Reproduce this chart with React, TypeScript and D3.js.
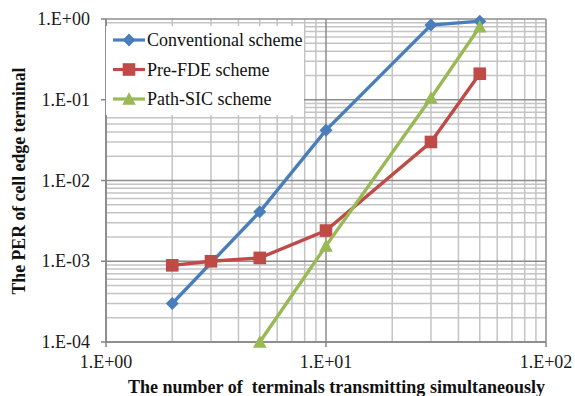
import React from "react";
import * as d3 from "d3";

const xTickValues = [1, 10, 100];
const xTickLabels = ["1.E+00", "1.E+01", "1.E+02"];
const yTickValues = [1, 0.1, 0.01, 0.001, 0.0001];
const yTickLabels = ["1.E+00", "1.E-01", "1.E-02", "1.E-03", "1.E-04"];

const convX = [2, 5, 10, 30, 50];
const convY = [3e-4, 4.1e-3, 0.042, 0.84, 0.94];
const fdeX = [2, 3, 5, 10, 30, 50];
const fdeY = [8.9e-4, 1.0e-3, 1.1e-3, 2.4e-3, 0.03, 0.21];
const sicX = [5, 10, 30, 50];
const sicY = [1e-4, 1.55e-3, 0.105, 0.8];

const seriesNames = ["Conventional scheme", "Pre-FDE scheme", "Path-SIC scheme"];
const colors = ["#4A7EBB", "#BE4B48", "#98B954"];

const W = 575, H = 396;
const L = 106, R = 546, T = 19, B = 342;
const FONT = "'Liberation Serif', 'Times New Roman', Times, serif";

export default function App() {
  const x = d3.scaleLog().domain([1, 100]).range([L, R]);
  const y = d3.scaleLog().domain([1e-4, 1]).range([B, T]);
  const line = d3.line<[number, number]>().x(d => x(d[0])).y(d => y(d[1]));

  const minorX: number[] = [];
  for (const dec of [1, 10]) for (let k = 2; k <= 9; k++) minorX.push(dec * k);
  const minorY: number[] = [];
  for (const dec of [1e-4, 1e-3, 1e-2, 1e-1]) for (let k = 2; k <= 9; k++) minorY.push(dec * k);

  const series = [
    { xs: convX, ys: convY, shape: "diamond" },
    { xs: fdeX, ys: fdeY, shape: "square" },
    { xs: sicX, ys: sicY, shape: "triangle" },
  ];

  const marker = (shape: string, cx: number, cy: number, color: string, key: any) => {
    if (shape === "diamond") {
      const s = 6.5;
      return <path key={key} d={`M${cx},${cy - s}L${cx + s},${cy}L${cx},${cy + s}L${cx - s},${cy}Z`} fill={color} />;
    }
    if (shape === "square") {
      const s = 6.3;
      return <rect key={key} x={cx - s} y={cy - s} width={2 * s} height={2 * s} fill={color} />;
    }
    const s = 6.8;
    return <path key={key} d={`M${cx},${cy - s}L${cx + s},${cy + s * 0.85}L${cx - s},${cy + s * 0.85}Z`} fill={color} />;
  };

  return (
    <svg width={W} height={H} style={{ position: "absolute", left: 0, top: 0, background: "#fff" }}
      fontFamily={FONT}>
      <rect x={0} y={0} width={W} height={H} fill="#fff" />
      {minorX.map((v, i) => (
        <line key={"mx" + i} x1={x(v)} x2={x(v)} y1={T} y2={B} stroke="#C4C4C4" strokeWidth={1.5} />
      ))}
      {minorY.map((v, i) => (
        <line key={"my" + i} x1={L} x2={R} y1={y(v)} y2={y(v)} stroke="#C4C4C4" strokeWidth={1.5} />
      ))}
      {xTickValues.map((v, i) => (
        <line key={"Mx" + i} x1={x(v)} x2={x(v)} y1={T} y2={B} stroke="#8C8C8C" strokeWidth={1.5} />
      ))}
      {yTickValues.map((v, i) => (
        <line key={"My" + i} x1={L} x2={R} y1={y(v)} y2={y(v)} stroke="#8C8C8C" strokeWidth={1.5} />
      ))}
      <line x1={L} x2={L} y1={T} y2={B} stroke="#868686" strokeWidth={1.5} />
      <line x1={L} x2={R} y1={B} y2={B} stroke="#868686" strokeWidth={1.5} />
      {yTickValues.map((v, i) => (
        <line key={"yt" + i} x1={L - 5} x2={L} y1={y(v)} y2={y(v)} stroke="#868686" strokeWidth={1.5} />
      ))}
      {xTickValues.map((v, i) => (
        <line key={"xt" + i} x1={x(v)} x2={x(v)} y1={B} y2={B + 5} stroke="#868686" strokeWidth={1.5} />
      ))}
      {yTickValues.map((v, i) => (
        <text key={"yl" + i} x={90} y={y(v) + 6} textAnchor="end" fontSize={18} fill="#1a1a1a">{yTickLabels[i]}</text>
      ))}
      {xTickValues.map((v, i) => (
        <text key={"xl" + i} x={x(v)} y={368} textAnchor="middle" fontSize={18} fill="#1a1a1a">{xTickLabels[i]}</text>
      ))}
      <text x={336.5} y={393} textAnchor="middle" fontSize={18} fontWeight="bold" fill="#111"
        textLength={417} lengthAdjust="spacingAndGlyphs" style={{ whiteSpace: "pre" }}>The number of  terminals transmitting simultaneously</text>
      <text transform={`translate(25,181) rotate(-90)`} textAnchor="middle" fontSize={18} fontWeight="bold" fill="#111"
        textLength={227} lengthAdjust="spacingAndGlyphs">The PER of cell edge terminal</text>
      <rect x={106} y={26} width={198} height={89} fill="#fff" />
      {seriesNames.map((n, i) => {
        const ly = 40 + i * 29.5;
        return (
          <g key={"lg" + i}>
            <line x1={113} x2={145} y1={ly} y2={ly} stroke={colors[i]} strokeWidth={3.2} />
            {marker(series[i].shape, 129, ly, colors[i], "lm" + i)}
            <text x={147} y={ly + 6} fontSize={18} fill="#111">{n}</text>
          </g>
        );
      })}
      {series.map((s, i) => {
        const pts = s.xs.map((v, j) => [v, s.ys[j]] as [number, number]);
        return (
          <g key={"s" + i}>
            <path d={line(pts) || ""} fill="none" stroke={colors[i]} strokeWidth={3.4} />
            {pts.map((p, j) => marker(s.shape, x(p[0]), y(p[1]), colors[i], "m" + i + "_" + j))}
          </g>
        );
      })}
    </svg>
  );
}
